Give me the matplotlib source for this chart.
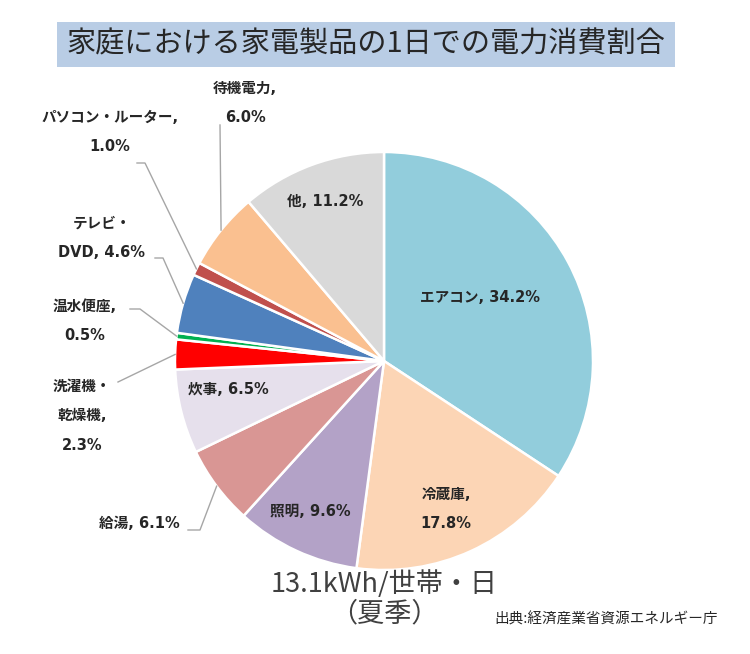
import numpy as np
import matplotlib
matplotlib.use('Agg')
import matplotlib.pyplot as plt
from matplotlib.patches import Rectangle

plt.rcParams['font.family'] = ['Noto Sans CJK JP', 'DejaVu Sans']
LABEL_FONT = ['DejaVu Sans', 'Noto Sans CJK JP']

W, H = 750, 654

categories = ['エアコン', '冷蔵庫', '照明', '給湯', '炊事', '洗濯機・\n乾燥機',
              '温水便座', 'テレビ・\nDVD', 'パソコン・ルーター', '待機電力', '他']
values = [34.2, 17.8, 9.6, 6.1, 6.5, 2.3, 0.5, 4.6, 1.0, 6.0, 11.2]
colors = ['#92CDDC', '#FCD5B5', '#B3A2C7', '#D99694', '#E6E0EC', '#FF0000',
          '#00B050', '#4F81BD', '#C0504D', '#FAC090', '#D9D9D9']
# newline after the comma?
wrap = [False, True, False, False, False, True, True, False, True, True, False]

# label layout in pixels (x, y from top) and leader-line start (None = inside)
label_pos = [(480, 297), (446, 509), (310, 512), (139, 523), (228, 390), (82, 416),
             (85, 321), (102, 238), (110, 132), (245, 103), (325, 201)]
leader = [None, None, None, [(188, 530), (200, 530)], None, [(118, 382)],
          [(130, 309), (140, 309)], [(155, 258), (163, 258)],
          [(137, 163), (145, 163)], [(220, 125)], None]

cx, cy, R = 384, 361, 209

def py(y):
    return H - y

fig = plt.figure(figsize=(W / 100, H / 100), dpi=100)
ax = fig.add_axes([0, 0, 1, 1])

wedges, _ = ax.pie(values, colors=colors, startangle=90, counterclock=False,
                   center=(cx, py(cy)), radius=R,
                   wedgeprops=dict(edgecolor='white', linewidth=1.8))
ax.set_xlim(0, W)
ax.set_ylim(0, H)
ax.axis('off')

for i, w in enumerate(wedges):
    sep = ',\n' if wrap[i] else ', '
    txt = f'{categories[i]}{sep}{values[i]:.1f}%'
    x, y = label_pos[i]
    ax.text(x, py(y), txt, ha='center', va='center', fontsize=10.5, fontweight='bold',
            color='#262626', linespacing=2.2, family=LABEL_FONT)
    if leader[i] is not None:
        mid = np.deg2rad((w.theta1 + w.theta2) / 2)
        ex, ey = cx + R * np.cos(mid), py(cy) + R * np.sin(mid)
        xs = [p[0] for p in leader[i]] + [ex]
        ys = [py(p[1]) for p in leader[i]] + [ey]
        ax.plot(xs, ys, color='#A6A6A6', lw=1)

# title
ax.add_patch(Rectangle((57, py(67)), 618, 45, facecolor='#B9CDE5', edgecolor='none'))
ax.text(366, py(44), '家庭における家電製品の1日での電力消費割合', ha='center', va='center',
        fontsize=21, color='#262626')

ax.text(384, py(584), '13.1kWh/世帯・日', ha='center', va='center', fontsize=19.5,
        color='#404040')
ax.text(384, py(614), '（夏季）', ha='center', va='center', fontsize=19.5, color='#404040')
ax.text(718, py(619), '出典:経済産業省資源エネルギー庁', ha='right', va='center',
        fontsize=10.5, color='#262626')

fig.savefig('out.png', dpi=100)
